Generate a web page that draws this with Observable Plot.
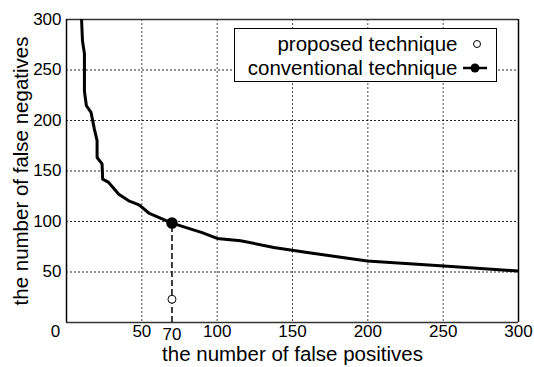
<!DOCTYPE html>
<html>
<head>
<meta charset="utf-8">
<script src="https://cdn.jsdelivr.net/npm/d3@7"></script>
<script src="https://cdn.jsdelivr.net/npm/@observablehq/plot@0.6"></script>
<style>
  html, body { margin: 0; padding: 0; background: #fff; }
  #chart svg { display: block; }
</style>
</head>
<body>
<div id="chart"></div>
<script>
// Conventional technique curve (false positives vs false negatives)
const conventionalFP = [10, 10.6, 11.9, 11.9, 13.2, 16.3, 18.5, 20.3, 20.3, 23.6, 24, 28, 34.7, 41.3, 46.9, 49, 54.6, 70, 90, 100, 115.5, 137.6, 159.8, 175, 199.6, 250.5, 300];
const conventionalFN = [300, 279, 266, 229, 214.6, 208, 191.5, 180, 163.4, 157, 142, 138.7, 127, 120.5, 117.3, 115.5, 108.4, 98.4, 89, 83.2, 81, 74.3, 69.3, 66, 61, 56, 51];
// Operating points
const conventionalPointFP = [70];
const conventionalPointFN = [98.4];
const proposedPointFP = [70];
const proposedPointFN = [23];
// Ticks
const xTickLabels = [50, 100, 150, 200, 250, 300];
const xSpecialTick = [70];
const yTickLabels = [50, 100, 150, 200, 250, 300];
const gridValues = [50, 100, 150, 200, 250];
const legendLabels = ["proposed technique", "conventional technique"];
const xLabel = "the number of false positives";
const yLabel = "the number of false negatives";

const curve = conventionalFP.map((x, i) => ({x, y: conventionalFN[i]}));
const convPt = conventionalPointFP.map((x, i) => ({x, y: conventionalPointFN[i]}));
const propPt = proposedPointFP.map((x, i) => ({x, y: proposedPointFN[i]}));

const FONT = "'Liberation Sans', Arial, Helvetica, sans-serif";

const plot = Plot.plot({
  width: 534,
  height: 367,
  marginLeft: 66,
  marginRight: 16,
  marginTop: 19,
  marginBottom: 45,
  style: {fontFamily: FONT, fontSize: "17px", color: "#000", background: "#fff"},
  x: {domain: [0, 300], axis: null},
  y: {domain: [0, 300], axis: null},
  marks: [
    Plot.gridX(gridValues, {stroke: "#000", strokeOpacity: 0.7, strokeDasharray: "2,2", strokeWidth: 1}),
    Plot.gridY(gridValues, {stroke: "#000", strokeOpacity: 0.85, strokeDasharray: "2,2", strokeWidth: 1}),
    Plot.ruleY([0, 300], {stroke: "#333", strokeWidth: 1.5}),
    Plot.ruleX([0, 300], {stroke: "#000", strokeWidth: 1.5}),
    // dashed drop line
    Plot.ruleX(convPt, {x: "x", y1: 0, y2: "y", stroke: "#000", strokeWidth: 1.5, strokeDasharray: "6,3"}),
    Plot.line(curve, {x: "x", y: "y", stroke: "#000", strokeWidth: 3, strokeLinejoin: "round", clip: true}),
    Plot.dot(convPt, {x: "x", y: "y", r: 5, fill: "#000", stroke: "#000"}),
    Plot.dot(propPt, {x: "x", y: "y", r: 4, fill: "#fff", stroke: "#000", strokeWidth: 1}),
    // tick labels
    Plot.text(xTickLabels, {x: d => d, y: 0, text: d => String(d), dy: 9, lineAnchor: "middle", fontSize: 17}),
    Plot.text(xSpecialTick, {x: d => d, y: 0, text: d => String(d), dy: 12, lineAnchor: "middle", fontSize: 17}),
    Plot.text([0], {x: 0, y: 0, text: d => String(d), dx: -11, dy: 9, lineAnchor: "middle", fontSize: 17}),
    Plot.text(yTickLabels, {x: 0, y: d => d, text: d => String(d), dx: -5, textAnchor: "end", lineAnchor: "middle", fontSize: 17}),
    // axis labels
    Plot.text([xLabel], {frameAnchor: "bottom", text: d => d, dy: 32, textAnchor: "middle", lineAnchor: "middle", fontSize: 20.5}),
    Plot.text([yLabel], {frameAnchor: "left", text: d => d, dx: -45.5, rotate: -90, textAnchor: "middle", lineAnchor: "middle", fontSize: 20.5})
  ]
});

document.getElementById("chart").appendChild(plot);

// Legend
const svg = d3.select(plot);
const lg = svg.append("g").attr("font-family", FONT).attr("font-size", 20.5);
lg.append("rect").attr("x", 234.5).attr("y", 28.5).attr("width", 262).attr("height", 53)
  .attr("fill", "#fff").attr("stroke", "#000").attr("stroke-width", 1);
const rowsY = [44, 68];
lg.selectAll("text.lab").data(legendLabels).join("text")
  .attr("class", "lab")
  .attr("x", 457.5).attr("y", (d, i) => rowsY[i]).attr("dy", "0.35em")
  .attr("text-anchor", "end").attr("fill", "#000").text(d => d);
lg.append("circle").attr("cx", 477).attr("cy", rowsY[0]).attr("r", 3.5)
  .attr("fill", "#fff").attr("stroke", "#000").attr("stroke-width", 1);
lg.append("line").attr("x1", 463).attr("x2", 487).attr("y1", rowsY[1]).attr("y2", rowsY[1])
  .attr("stroke", "#000").attr("stroke-width", 2.5);
lg.append("circle").attr("cx", 475).attr("cy", rowsY[1]).attr("r", 4.5).attr("fill", "#000");
</script>
</body>
</html>
